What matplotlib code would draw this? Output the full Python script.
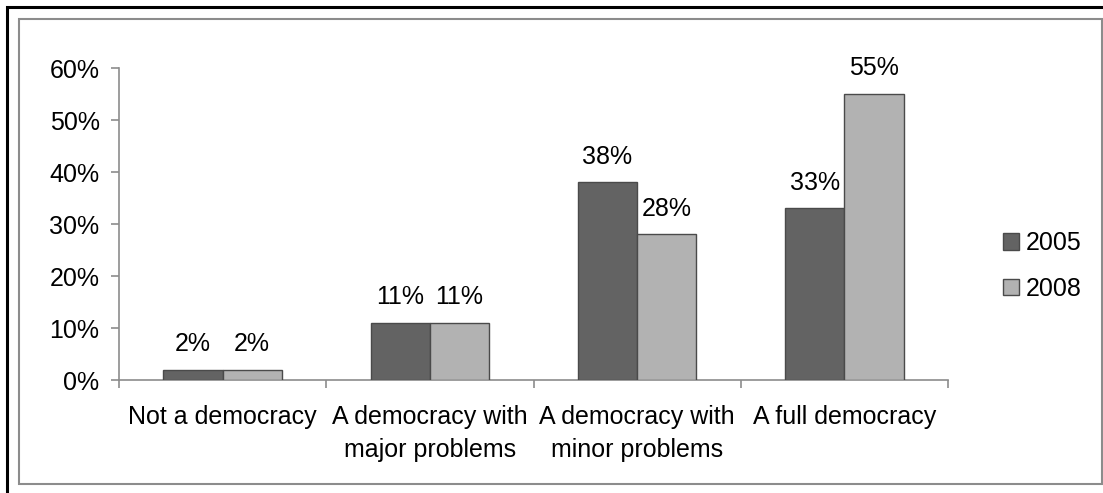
import matplotlib.pyplot as plt
import numpy as np
from matplotlib.patches import Rectangle

categories = ["Not a democracy", "A democracy with\nmajor problems",
              "A democracy with\nminor problems", "A full democracy"]
years = ["2005", "2008"]
values_2005 = [2, 11, 38, 33]
values_2008 = [2, 11, 28, 55]
yticks = [0, 10, 20, 30, 40, 50, 60]

plt.rcParams['font.family'] = ['Liberation Sans', 'DejaVu Sans']
FS = 18

W, H = 1103, 493
fig = plt.figure(figsize=(W / 100, H / 100), dpi=100)

# outer black frame and inner grey chart-area frame
fig.patches.append(Rectangle((7 / W, -0.05), 1.1, (H - 7) / H + 0.05,
                             transform=fig.transFigure, fill=False,
                             edgecolor='black', linewidth=2.2))
fig.patches.append(Rectangle((19 / W, (H - 484) / H), (1101.5 - 19) / W, (484 - 19) / H,
                             transform=fig.transFigure, fill=False,
                             edgecolor='#8c8c8c', linewidth=1.5))

ax = fig.add_axes([119 / W, (H - 380) / H, (948 - 119) / W, (380 - 68) / H])

x = np.arange(len(categories))
bw = 1 / 3.5
colors = ['#636363', '#b2b2b2']
for i, (vals, c, lab) in enumerate(zip([values_2005, values_2008], colors, years)):
    pos = x + (i - 0.5) * bw
    ax.bar(pos, vals, width=bw, color=c, edgecolor='#4a4a4a', linewidth=1.0,
           label=lab, zorder=3)
    for p, v in zip(pos, vals):
        ax.annotate(f"{v}%", (p, v), xytext=(0, 18.5), textcoords='offset points',
                    ha='center', va='center', fontsize=FS)

ax.set_xlim(-0.5, len(categories) - 0.5)
ax.set_ylim(0, 60)
ax.set_yticks(yticks)
ax.set_yticklabels([f"{t}%" for t in yticks], fontsize=FS)
ax.set_xticks(x)
ax.set_xticklabels(categories, fontsize=FS, linespacing=1.5)
ax.tick_params(axis='x', length=0, pad=18)
ax.set_xticks(np.arange(len(categories) + 1) - 0.5, minor=True)
ax.tick_params(axis='x', which='minor', length=6, color='#8c8c8c', width=1.2)
ax.tick_params(axis='y', length=6, color='#8c8c8c', width=1.2, pad=8)

for s in ['top', 'right']:
    ax.spines[s].set_visible(False)
for s in ['left', 'bottom']:
    ax.spines[s].set_color('#8c8c8c')
    ax.spines[s].set_linewidth(1.2)

ax.legend(loc='center left', bbox_to_anchor=(993 / W, (H - 266) / H),
          bbox_transform=fig.transFigure, frameon=False, fontsize=FS,
          handlelength=0.65, handleheight=0.65, handletextpad=0.25,
          labelspacing=0.85, borderaxespad=0)

fig.savefig('out.png', dpi=100)
